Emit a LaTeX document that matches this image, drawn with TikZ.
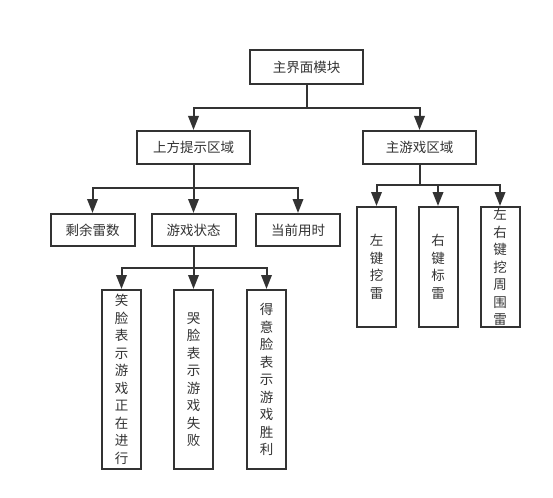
\documentclass[tikz,border=0pt]{standalone}
\usepackage{fontspec}
\setmainfont{Noto Sans CJK SC}
\usepackage{tikz}
\usetikzlibrary{arrows.meta, positioning}
\definecolor{linegray}{HTML}{333333}

\begin{document}
\begin{tikzpicture}[x=1pt, y=-1pt, >={Triangle[length=14pt, width=10.5pt]},
  every node/.style={draw=linegray, line width=2pt, fill=white, text=linegray, inner sep=0pt, align=center, font=\fontsize{13.5}{17.5}\selectfont},
  box/.style={minimum width=113pt, minimum height=34pt},
  midbox/.style={minimum width=84pt, minimum height=32pt},
  tallbox/.style={minimum width=39pt, minimum height=120pt},
  longbox/.style={minimum width=39pt, minimum height=179pt},
  link/.style={->, draw=linegray, line width=2pt}]
\fill[white] (0,0) rectangle (553,497);
% Nodes
\node[box] (main) at (306.5,67) {主界面模块};
\node[box, minimum height=33pt] (hint) [below=45pt of main, xshift=-113pt] {上方提示区域};
\node[box, minimum height=33pt] (game) [below=45pt of main, xshift=113pt] {主游戏区域};
\node[midbox] (mines) [below=48pt of hint, xshift=-101pt] {剩余雷数};
\node[midbox] (state) [below=48pt of hint] {游戏状态};
\node[midbox] (time) [below=48pt of hint, xshift=104.5pt] {当前用时};
\node[longbox] (smile) [below=42pt of state, xshift=-72pt] {笑\\脸\\表\\示\\游\\戏\\正\\在\\进\\行};
\node[longbox] (cry) [below=42pt of state] {哭\\脸\\表\\示\\游\\戏\\失\\败};
\node[longbox] (proud) [below=42pt of state, xshift=73pt] {得\\意\\脸\\表\\示\\游\\戏\\胜\\利};
\node[tallbox] (leftkey) [below=41pt of game, xshift=-43pt] {左\\键\\挖\\雷};
\node[tallbox] (rightkey) [below=41pt of game, xshift=18.5pt] {右\\键\\标\\雷};
\node[tallbox] (bothkey) [below=41pt of game, xshift=80.5pt] {左\\右\\键\\挖\\周\\围\\雷};

% Edges
\draw[link] (main.south) -- ++(0,23) -| (hint.north);
\draw[link] (main.south) -- ++(0,23) -| (game.north);
\draw[link] (hint.south) -- ++(0,23) -| (mines.north);
\draw[link] (hint.south) -- (state.north);
\draw[link] (hint.south) -- ++(0,23) -| (time.north);
\draw[link] (state.south) -- ++(0,21) -| (smile.north);
\draw[link] (state.south) -- (cry.north);
\draw[link] (state.south) -- ++(0,21) -| (proud.north);
\draw[link] (game.south) -- ++(0,20) -| (leftkey.north);
\draw[link] (game.south) -- ++(0,20) -| (rightkey.north);
\draw[link] (game.south) -- ++(0,20) -| (bothkey.north);
\end{tikzpicture}
\end{document}
